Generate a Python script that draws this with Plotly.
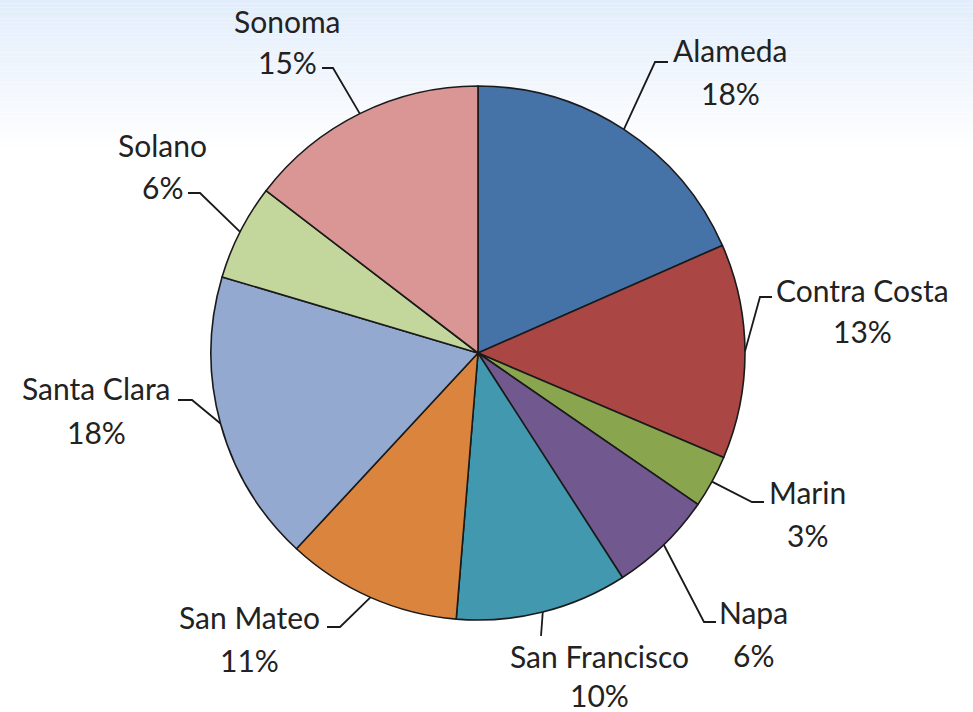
import math
import plotly.graph_objects as go

# ---- data ----
counties = ["Alameda", "Contra Costa", "Marin", "Napa", "San Francisco",
            "San Mateo", "Santa Clara", "Solano", "Sonoma"]
shares = [18.4, 13.0, 3.2, 6.3, 10.4, 10.6, 17.7, 5.8, 14.6]
colors = ["#4572A7", "#AA4643", "#89A54E", "#71588F", "#4198AF",
          "#DB843D", "#93A9CF", "#C3D69B", "#D99694"]

# ---- layout (pixels) ----
W, H = 973, 712
CX, CY, R = 478, 353, 267
# label text: x centre, first-line y, second-line y
label_xy = [(730, 50, 93), (862, 290, 331), (807, 492, 535), (753, 612, 655),
            (599, 656, 695), (249, 617, 660), (96, 388, 432), (162, 145, 187),
            (287, 21, 62)]
# leader end near label, and horizontal segment length (signed)
leader_end = [(668, 62, -13), (772, 297, -12), (764, 502, -12), (716, 622, -12),
              (541, 636, 0), (327, 627, 13), (178, 400, 14), (188, 193, 12),
              (322, 68, 11)]

FONT = "Lato"
FS = 30

def px(x):
    return x / W

def py(y):
    return 1 - y / H

fig = go.Figure()
fig.add_trace(go.Pie(
    labels=counties, values=shares, sort=False, direction="clockwise",
    rotation=0, textinfo="none", hoverinfo="label+percent",
    marker=dict(colors=colors, line=dict(color="#1a1a1a", width=1.6)),
    domain=dict(x=[px(CX - R), px(CX + R)], y=[py(CY + R), py(CY - R)]),
    showlegend=False,
))

shapes = []
# background gradient at the top
steps = 40
top = (226, 237, 251)
for i in range(steps):
    t = i / steps
    c = tuple(round(top[k] + (255 - top[k]) * t) for k in range(3))
    shapes.append(dict(type="rect", xref="paper", yref="paper",
                       x0=0, x1=1, y0=py(150 * (i + 1) / steps), y1=py(150 * i / steps),
                       fillcolor="rgb(%d,%d,%d)" % c, line=dict(width=0), layer="below"))

total = sum(shares)
annotations = []
cum = 0.0
for name, v, (lx, ly1, ly2), (hx, hy, hd) in zip(counties, shares, label_xy, leader_end):
    mid = (cum + v / 2) / total * 2 * math.pi
    cum += v
    ex0 = CX + R * math.sin(mid)
    ey0 = CY - R * math.cos(mid)
    elx, ely = hx + hd, hy
    path = "M %f,%f L %f,%f L %f,%f" % (px(ex0), py(ey0), px(elx), py(ely), px(hx), py(hy))
    shapes.append(dict(type="path", xref="paper", yref="paper", path=path,
                       line=dict(color="#1a1a1a", width=1.8), layer="above"))
    pct = round(v / total * 100)
    for txt, yy in ((name, ly1), ("%d%%" % pct, ly2)):
        annotations.append(dict(text=txt, x=px(lx), y=py(yy), xref="paper", yref="paper",
                                xanchor="center", yanchor="middle", showarrow=False,
                                font=dict(family=FONT, size=FS, color="#222222")))

fig.update_layout(
    width=W, height=H, margin=dict(l=0, r=0, t=0, b=0),
    paper_bgcolor="white", plot_bgcolor="white",
    shapes=shapes, annotations=annotations,
)
fig.write_html("out.html", config={"displayModeBar": False},
               post_script="document.body.style.margin='0';document.body.style.overflow='hidden';")
